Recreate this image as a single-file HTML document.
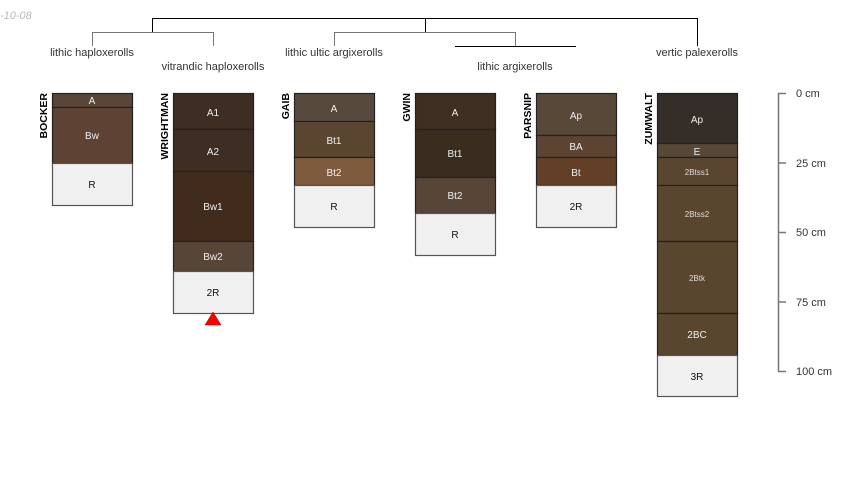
<!DOCTYPE html>
<html><head><meta charset="utf-8"><style>
html,body{margin:0;padding:0;background:#fff;width:850px;height:500px;overflow:hidden}
text{font-family:"Liberation Sans",sans-serif}
</style></head><body>
<svg width="850" height="500" viewBox="0 0 850 500" xmlns="http://www.w3.org/2000/svg">
<text x="0" y="19" font-size="11" font-style="italic" fill="#bbb">-10-08</text>
<!-- dendrogram -->
<g fill="none" stroke-width="1">
<path d="M152.5 32V18.5H697.5V46" stroke="#000"/>
<path d="M425.5 18.5V32" stroke="#000"/>
<path d="M92.5 46V32.5H213.5V46" stroke="#777"/>
<path d="M334.5 46V32.5H515.5V46" stroke="#777"/>
<path d="M455 46.5H576" stroke="#000"/>
</g>
<g font-size="11" fill="#333" text-anchor="middle">
<text x="92" y="56">lithic haploxerolls</text>
<text x="213" y="70">vitrandic haploxerolls</text>
<text x="334" y="56">lithic ultic argixerolls</text>
<text x="515" y="70">lithic argixerolls</text>
<text x="697" y="56">vertic palexerolls</text>
</g>
<g stroke="#222" stroke-width="1.2">
<rect x="52.5" y="93.5" width="80" height="14" fill="#5a4538"/>
<rect x="52.5" y="107.5" width="80" height="56" fill="#5e4233"/>
<rect x="52.5" y="163.5" width="80" height="42" fill="#f0f0f0" stroke="#555"/>
<rect x="173.5" y="93.5" width="80" height="36" fill="#3e2d23"/>
<rect x="173.5" y="129.5" width="80" height="42" fill="#3e2d23"/>
<rect x="173.5" y="171.5" width="80" height="70" fill="#402b1d"/>
<rect x="173.5" y="241.5" width="80" height="30" fill="#574638"/>
<rect x="173.5" y="271.5" width="80" height="42" fill="#f0f0f0" stroke="#555"/>
<rect x="294.5" y="93.5" width="80" height="28" fill="#574a3c"/>
<rect x="294.5" y="121.5" width="80" height="36" fill="#5a4630"/>
<rect x="294.5" y="157.5" width="80" height="28" fill="#7e5b3c"/>
<rect x="294.5" y="185.5" width="80" height="42" fill="#f0f0f0" stroke="#555"/>
<rect x="415.5" y="93.5" width="80" height="36" fill="#3f2f22"/>
<rect x="415.5" y="129.5" width="80" height="48" fill="#3b2c20"/>
<rect x="415.5" y="177.5" width="80" height="36" fill="#574638"/>
<rect x="415.5" y="213.5" width="80" height="42" fill="#f0f0f0" stroke="#555"/>
<rect x="536.5" y="93.5" width="80" height="42" fill="#574838"/>
<rect x="536.5" y="135.5" width="80" height="22" fill="#5d4332"/>
<rect x="536.5" y="157.5" width="80" height="28" fill="#623f26"/>
<rect x="536.5" y="185.5" width="80" height="42" fill="#f0f0f0" stroke="#555"/>
<rect x="657.5" y="93.5" width="80" height="50" fill="#352d28"/>
<rect x="657.5" y="143.5" width="80" height="14" fill="#574838"/>
<rect x="657.5" y="157.5" width="80" height="28" fill="#5a4630"/>
<rect x="657.5" y="185.5" width="80" height="56" fill="#59462f"/>
<rect x="657.5" y="241.5" width="80" height="72" fill="#59462f"/>
<rect x="657.5" y="313.5" width="80" height="42" fill="#59462f"/>
<rect x="657.5" y="355.5" width="80" height="41" fill="#f0f0f0" stroke="#555"/>
</g>
<polygon points="213,312 205,325 221,325" fill="#f00" stroke="#900" stroke-width="0.5"/>
<g font-size="10" text-anchor="middle" fill="#eee">
<text x="92" y="104">A</text><text x="92" y="139">Bw</text><text x="92" y="188" fill="#111">R</text>
<text x="213" y="116">A1</text><text x="213" y="155">A2</text><text x="213" y="210">Bw1</text><text x="213" y="260">Bw2</text><text x="213" y="296" fill="#111">2R</text>
<text x="334" y="112">A</text><text x="334" y="144">Bt1</text><text x="334" y="176">Bt2</text><text x="334" y="210" fill="#111">R</text>
<text x="455" y="116">A</text><text x="455" y="157">Bt1</text><text x="455" y="199">Bt2</text><text x="455" y="238" fill="#111">R</text>
<text x="576" y="119">Ap</text><text x="576" y="150">BA</text><text x="576" y="176">Bt</text><text x="576" y="210" fill="#111">2R</text>
<text x="697" y="123">Ap</text><text x="697" y="155">E</text>
<text x="697" y="175" font-size="8" fill="#ddd">2Btss1</text><text x="697" y="217" font-size="8" fill="#ddd">2Btss2</text><text x="697" y="281" font-size="8" fill="#ddd">2Btk</text>
<text x="697" y="338">2BC</text><text x="697" y="380" fill="#111">3R</text>
</g>
<g font-size="10.5" font-weight="bold" fill="#000">
<text transform="translate(47,93) rotate(-90)" text-anchor="end">BOCKER</text>
<text transform="translate(168,93) rotate(-90)" text-anchor="end">WRIGHTMAN</text>
<text transform="translate(289,93) rotate(-90)" text-anchor="end">GAIB</text>
<text transform="translate(410,93) rotate(-90)" text-anchor="end">GWIN</text>
<text transform="translate(531,93) rotate(-90)" text-anchor="end">PARSNIP</text>
<text transform="translate(652,93) rotate(-90)" text-anchor="end">ZUMWALT</text>
</g>
<g stroke="#777" stroke-width="1.5" fill="none">
<path d="M786 93.5H778.5V371.5H786"/>
<path d="M778 163H786M778 232.5H786M778 302H786"/>
</g>
<g font-size="11" fill="#333">
<text x="796" y="97">0 cm</text><text x="796" y="167">25 cm</text><text x="796" y="236">50 cm</text><text x="796" y="306">75 cm</text><text x="796" y="375">100 cm</text>
</g>
</svg>
</body></html>
